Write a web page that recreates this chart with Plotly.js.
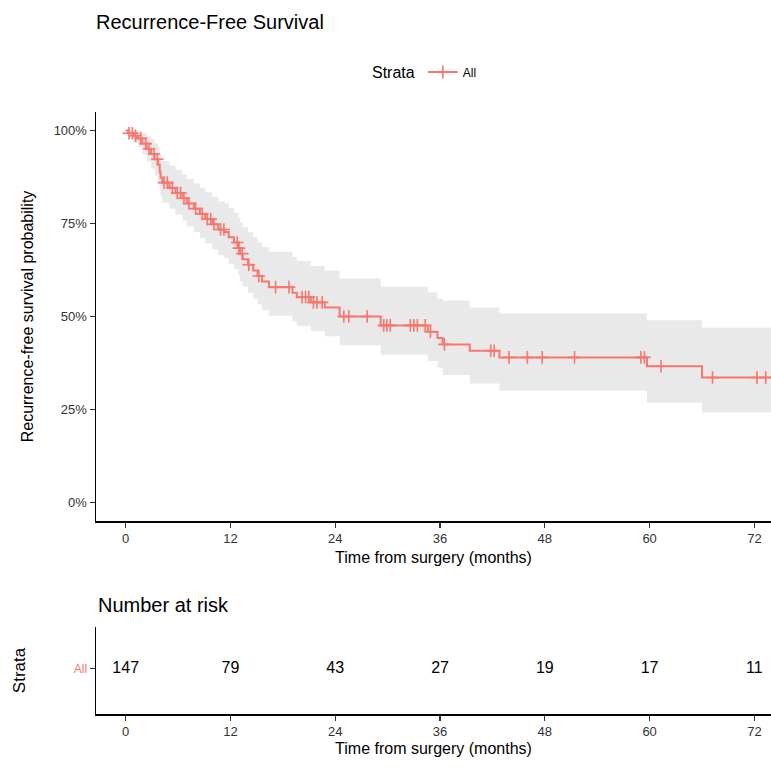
<!DOCTYPE html>
<html>
<head>
<meta charset="utf-8">
<script src="https://cdn.plot.ly/plotly-3.0.1.min.js"></script>
<style>
  html, body { margin: 0; padding: 0; background: #ffffff; }
  #chart { width: 771px; height: 769px; }
</style>
</head>
<body>
<div id="chart"></div>
<script>
// Kaplan-Meier estimate: event times (months) and survival after each step
const eventTimes = [0, 0.3, 0.9, 1.4, 1.9, 2.4, 2.9, 3.3, 3.7, 3.9, 4.0, 4.2, 5.0, 5.7, 6.5, 7.0, 7.8, 8.5, 9.1, 9.9,
  10.6, 11.3, 11.8, 12.4, 12.9, 13.1, 13.4, 14.0, 14.6, 15.1, 15.6, 16.4, 19.1, 19.6, 21.2, 22.8, 24.5, 29.2,
  34.6, 35.7, 36.3, 39.4, 42.8, 59.7, 66.0];
const survival = [1, 0.993, 0.986, 0.979, 0.965, 0.951, 0.937, 0.923, 0.909, 0.888, 0.874, 0.860, 0.846, 0.832, 0.818,
  0.804, 0.790, 0.776, 0.762, 0.748, 0.734, 0.727, 0.713, 0.699, 0.684, 0.669, 0.654, 0.639, 0.624, 0.609, 0.594,
  0.579, 0.564, 0.552, 0.538, 0.524, 0.500, 0.476, 0.459, 0.442, 0.425, 0.408, 0.390, 0.366, 0.336];
// 95% confidence limits at the same steps
const upperCI = [1, 1, 1, 0.998, 0.994, 0.986, 0.977, 0.966, 0.956, 0.940, 0.929, 0.918, 0.906, 0.894, 0.882,
  0.870, 0.858, 0.846, 0.834, 0.822, 0.810, 0.804, 0.791, 0.779, 0.766, 0.753, 0.740, 0.727, 0.714, 0.700, 0.687,
  0.674, 0.660, 0.649, 0.636, 0.624, 0.602, 0.580, 0.565, 0.548, 0.543, 0.524, 0.508, 0.490, 0.470];
const lowerCI = [1, 0.980, 0.967, 0.956, 0.936, 0.917, 0.898, 0.880, 0.863, 0.838, 0.822, 0.806, 0.790, 0.774, 0.758,
  0.742, 0.727, 0.711, 0.696, 0.680, 0.665, 0.657, 0.642, 0.627, 0.611, 0.595, 0.580, 0.564, 0.548, 0.533, 0.517,
  0.502, 0.487, 0.475, 0.461, 0.447, 0.423, 0.398, 0.380, 0.362, 0.343, 0.320, 0.300, 0.268, 0.242];
const followUpEnd = 74;

// censored observations (months)
const censorTimes = [0.38, 0.76, 1.14, 1.72, 2.29, 2.67, 3.24, 3.62, 4.39, 4.77, 5.34, 5.91, 6.29, 6.67, 7.25,
  8.01, 8.77, 9.34, 9.73, 10.1, 10.87, 11.25, 12.78, 12.97, 13.35, 14.1, 15.25, 17.16, 18.7, 20.2, 20.6, 20.97,
  21.5, 21.9, 22.5, 24.98, 25.55, 27.65, 29.55, 29.9, 30.3, 32.6, 33.0, 33.4, 34.3, 34.9, 36.5, 41.8, 42.2, 43.9,
  46.0, 47.7, 51.4, 59.0, 59.4, 61.3, 67.2, 72.3, 73.3];

// number at risk table
const riskTimes = [0, 12, 24, 36, 48, 60, 72];
const riskCounts = [147, 79, 43, 27, 19, 17, 11];
const strataName = 'All';

const red = '#F8766D';
const font = 'Liberation Sans, Arial, Helvetica, sans-serif';

function stepValue(t) {
  let v = survival[0];
  for (let i = 0; i < eventTimes.length; i++) {
    if (eventTimes[i] <= t) v = survival[i];
  }
  return v;
}

const tx = eventTimes.concat([followUpEnd]);
const withEnd = arr => arr.concat([arr[arr.length - 1]]);

const traces = [
  { x: tx, y: withEnd(lowerCI), type: 'scatter', mode: 'lines', line: { shape: 'hv', width: 0 },
    showlegend: false, hoverinfo: 'skip', xaxis: 'x', yaxis: 'y' },
  { x: tx, y: withEnd(upperCI), type: 'scatter', mode: 'lines', line: { shape: 'hv', width: 0 },
    fill: 'tonexty', fillcolor: 'rgba(226,226,226,0.75)', showlegend: false, hoverinfo: 'skip',
    xaxis: 'x', yaxis: 'y' },
  { x: tx, y: withEnd(survival), type: 'scatter', mode: 'lines', line: { shape: 'hv', width: 2, color: red },
    showlegend: false, xaxis: 'x', yaxis: 'y' },
  { x: censorTimes, y: censorTimes.map(stepValue), type: 'scatter', mode: 'markers',
    marker: { symbol: 'cross-thin', size: 9, line: { width: 1.6, color: red }, color: red },
    showlegend: false, xaxis: 'x', yaxis: 'y' },
  // legend key: line with censor cross
  { x: [null], y: [null], type: 'scatter', mode: 'lines+markers', name: strataName,
    line: { color: red, width: 2 },
    marker: { symbol: 'cross-thin', size: 9, line: { width: 1.6, color: red }, color: red },
    xaxis: 'x', yaxis: 'y' },
  { x: riskTimes, y: riskTimes.map(() => 0), type: 'scatter', mode: 'text',
    text: riskCounts.map(String), textposition: 'middle center',
    textfont: { family: font, size: 16, color: '#000000' },
    showlegend: false, hoverinfo: 'skip', xaxis: 'x2', yaxis: 'y2' }
];

const H = 769;
const mT = 112, mB = 55;
const plotH = H - mT - mB;
// paper fraction for a pixel row measured from the top of the page
const py = row => (H - mB - row) / plotH;

const axisCommon = {
  range: [-3.4, 73.9], tickvals: riskTimes, ticks: 'outside', ticklen: 5, tickwidth: 1.2,
  tickcolor: '#333333', showline: true, linecolor: '#000000', linewidth: 1.5, showgrid: false,
  zeroline: false, tickfont: { family: font, size: 13, color: '#333333' }, fixedrange: true,
  automargin: false
};

const layout = {
  width: 771, height: 769,
  margin: { l: 96, r: 0, t: mT, b: mB, autoexpand: false },
  paper_bgcolor: '#ffffff', plot_bgcolor: '#ffffff',
  font: { family: font, color: '#000000' },
  title: { text: 'Recurrence-Free Survival', xref: 'container', yref: 'container',
    x: 96 / 771, xanchor: 'left', y: 1 - 22 / H, yanchor: 'middle',
    font: { family: font, size: 20, color: '#000000' } },
  showlegend: true,
  legend: { orientation: 'h', x: 370 / 771, xanchor: 'left', y: 1 - 73 / H, yanchor: 'middle',
    xref: 'container', yref: 'container',
    title: { text: 'Strata', font: { family: font, size: 16 }, side: 'left' },
    font: { family: font, size: 12 }, itemwidth: 30 },
  xaxis: Object.assign({}, axisCommon, {
    domain: [0, 1], anchor: 'y',
    title: { text: 'Time from surgery (months)', font: { family: font, size: 16 }, standoff: 6 }
  }),
  yaxis: {
    domain: [py(521), py(112)], anchor: 'x',
    range: [-0.05, 1.05], tickvals: [0, 0.25, 0.5, 0.75, 1], ticktext: ['0%', '25%', '50%', '75%', '100%'],
    ticks: 'outside', ticklen: 5, tickwidth: 1.2, tickcolor: '#333333',
    showline: true, linecolor: '#000000', linewidth: 1.5, showgrid: false, zeroline: false,
    tickfont: { family: font, size: 13, color: '#333333' }, fixedrange: true, automargin: false,
    title: { text: 'Recurrence-free survival probability', font: { family: font, size: 16 }, standoff: 16 }
  },
  xaxis2: Object.assign({}, axisCommon, {
    domain: [0, 1], anchor: 'y2',
    title: { text: 'Time from surgery (months)', font: { family: font, size: 16 }, standoff: 4 }
  }),
  yaxis2: {
    domain: [py(714), py(627)], anchor: 'x2',
    range: [-0.52, 0.48], tickvals: [0], ticktext: [strataName],
    ticks: 'outside', ticklen: 5, tickwidth: 1.2, tickcolor: '#333333',
    showline: true, linecolor: '#000000', linewidth: 1.5, showgrid: false, zeroline: false,
    tickfont: { family: font, size: 12, color: red }, fixedrange: true, automargin: false,
    title: { text: 'Strata', font: { family: font, size: 17 }, standoff: 44 }
  },
  annotations: [
    { text: 'Number at risk', xref: 'paper', yref: 'paper', x: 0, xanchor: 'left',
      y: py(605), yanchor: 'middle', showarrow: false,
      font: { family: font, size: 20, color: '#000000' } }
  ]
};

Plotly.newPlot('chart', traces, layout, { displayModeBar: false, staticPlot: true });
</script>
</body>
</html>
